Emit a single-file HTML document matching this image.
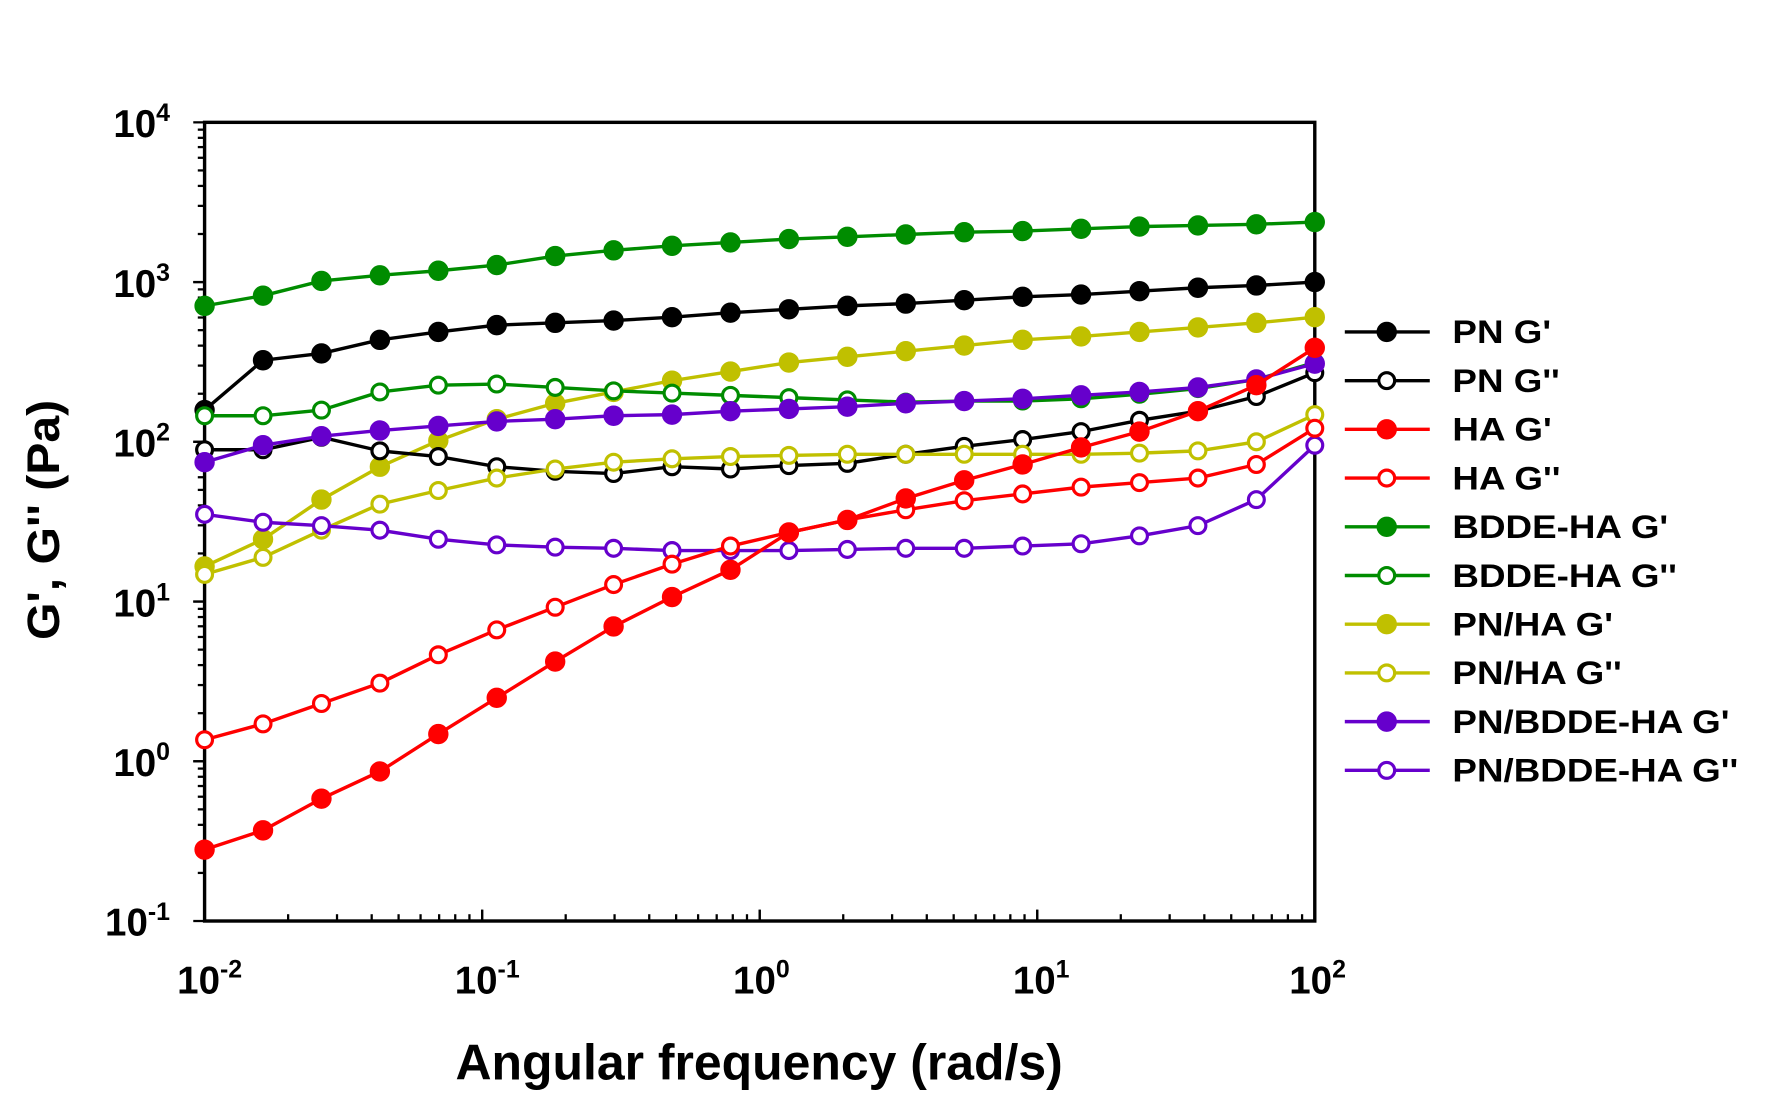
<!DOCTYPE html>
<html><head><meta charset="utf-8"><style>
html,body{margin:0;padding:0;background:#fff;}
svg{display:block;}
text{font-family:"Liberation Sans",Arial,sans-serif;font-weight:bold;}
</style></head><body>
<svg id="s" width="1772" height="1100" viewBox="0 0 1564 971" xmlns="http://www.w3.org/2000/svg">
<rect x="0" y="0" width="1564" height="971" fill="#fff"/>
<g id="ticks" stroke="#000" stroke-width="2"></g>
<rect x="180.5" y="108" width="980" height="705" fill="none" stroke="#000" stroke-width="3"/>
<g id="series"></g>
<g font-size="34" fill="#000" text-anchor="end">
<text x="150" y="121">10<tspan font-size="22" dy="-14">4</tspan></text>
<text x="150" y="262">10<tspan font-size="22" dy="-14">3</tspan></text>
<text x="150" y="403">10<tspan font-size="22" dy="-14">2</tspan></text>
<text x="150" y="544">10<tspan font-size="22" dy="-14">1</tspan></text>
<text x="150" y="685">10<tspan font-size="22" dy="-14">0</tspan></text>
<text x="150" y="826">10<tspan font-size="22" dy="-14">-1</tspan></text>
</g>
<g font-size="34" fill="#000" text-anchor="middle">
<text x="185" y="877">10<tspan font-size="22" dy="-14">-2</tspan></text>
<text x="430" y="877">10<tspan font-size="22" dy="-14">-1</tspan></text>
<text x="672" y="877">10<tspan font-size="22" dy="-14">0</tspan></text>
<text x="919" y="877">10<tspan font-size="22" dy="-14">1</tspan></text>
<text x="1163" y="877">10<tspan font-size="22" dy="-14">2</tspan></text>
</g>
<text x="402" y="953" font-size="44" textLength="536" lengthAdjust="spacingAndGlyphs">Angular frequency (rad/s)</text>
<text transform="translate(52,565) rotate(-90)" font-size="40" textLength="212" lengthAdjust="spacingAndGlyphs">G', G'' (Pa)</text>
<g id="legend"></g>
<g font-size="29" fill="#000" transform="translate(1282,0) scale(1.12,1) translate(-1282,0)">
<text x="1282" y="303">PN G'</text>
<text x="1282" y="346">PN G''</text>
<text x="1282" y="389">HA G'</text>
<text x="1282" y="432">HA G''</text>
<text x="1282" y="475">BDDE-HA G'</text>
<text x="1282" y="518">BDDE-HA G''</text>
<text x="1282" y="561">PN/HA G'</text>
<text x="1282" y="604">PN/HA G''</text>
<text x="1282" y="647">PN/BDDE-HA G'</text>
<text x="1282" y="690">PN/BDDE-HA G''</text>
</g>
</svg>
<script>
var NS="http://www.w3.org/2000/svg";
function el(p,t,a){var e=document.createElementNS(NS,t);for(var k in a)e.setAttribute(k,a[k]);p.appendChild(e);return e;}
var tk=document.getElementById('ticks');
for(var d=0;d<5;d++){for(var m=1;m<=10;m++){var y=813-141*(d+Math.log10(m));var L=(m==1||m==10)?10:6;el(tk,'line',{x1:180.5-L,x2:180.5,y1:y,y2:y});}}
for(var d=0;d<4;d++){for(var m=1;m<=10;m++){var x=180.5+245*(d+Math.log10(m));var L=(m==1||m==10)?10:6;el(tk,'line',{x1:x,x2:x,y1:813,y2:813-L});}}
var C={k:'#000',r:'#ff0000',g:'#008c00',y:'#c0c000',p:'#6600cc'};
var S=[
['g',1,[270,261,248,243,239,234,226,221,217,214,211,209,207,205,204,202,200,199,198,196]],
['k',1,[362,318,312,300,293,287,285,283,280,276,273,270,268,265,262,260,257,254,252,249]],
['y',1,[500,476,441,412,389,370,356,346,336,328,320,315,310,305,300,297,293,289,285,280]],
['g',0,[367,367,362,346,340,339,342,345,347,349,351,353,355,354,354,352,348,343,335,320]],
['k',0,[397,397,386,398,403,412,416,418,412,414,411,409,401,394,388,381,371,363,350,329]],
['y',0,[507,492,468,445,433,422,414,408,405,403,402,401,401,401,401,401,400,398,390,366]],
['p',1,[408,393,385,380,376,372,370,367,366,363,361,359,356,354,352,349,346,342,335,321]],
['p',0,[454,461,464,468,476,481,483,484,486,486,486,485,484,484,482,480,473,464,441,393]],
['r',0,[653,639,621,603,578,556,536,516,498,482,470,459,450,442,436,430,426,422,410,378]],
['r',1,[750,733,705,681,648,616,584,553,527,503,470,459,440,424,410,395,381,363,340,307]]
];
var g=document.getElementById('series');
S.forEach(function(s){var c=C[s[0]];var pts=s[2].map(function(v,i){return (180.5+i*980/19)+','+v;}).join(' ');
el(g,'polyline',{points:pts,fill:'none',stroke:c,'stroke-width':3});
s[2].forEach(function(v,i){el(g,'circle',{cx:180.5+i*980/19,cy:v,r:s[1]?8.5:7,fill:s[1]?c:'#fff',stroke:c,'stroke-width':s[1]?1:2.8});});});
var lg=document.getElementById('legend');
var LS=[['k',1],['k',0],['r',1],['r',0],['g',1],['g',0],['y',1],['y',0],['p',1],['p',0]];
LS.forEach(function(s,i){var y=293+43*i;var c=C[s[0]];el(lg,'line',{x1:1187,x2:1262,y1:y,y2:y,stroke:c,'stroke-width':3});
el(lg,'circle',{cx:1224,cy:y,r:s[1]?8.5:7,fill:s[1]?c:'#fff',stroke:c,'stroke-width':s[1]?1:2.8});});
</script>
</body></html>
